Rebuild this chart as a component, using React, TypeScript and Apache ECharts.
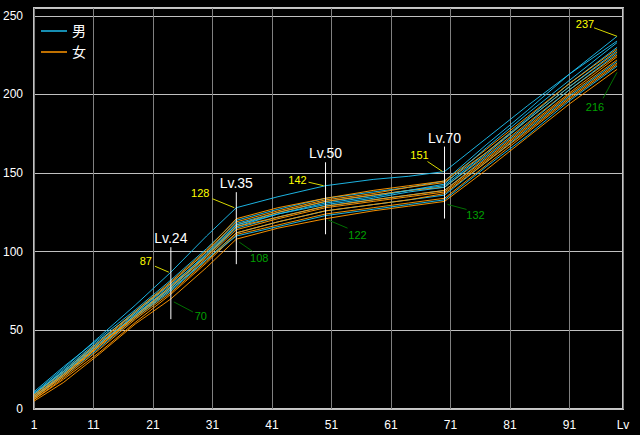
import React, { useEffect, useRef } from "react";
import * as echarts from "echarts";

const levels = [1, 6, 12, 18, 24, 30, 35, 42, 50, 58, 64, 70, 77, 84, 91, 99];

// 男 (blue) curves
const male1 = [10, 26, 46, 66, 87, 110, 128, 135, 142, 146, 148, 151, 172, 193, 213, 234];
const male2 = [11, 27, 45, 63, 82, 102, 120, 127, 134, 138, 141, 145, 168, 190, 213, 237];
const male3 = [9, 24, 43, 62, 80, 100, 118, 125, 132, 136, 139, 142, 163, 185, 207, 230];
const male4 = [8, 22, 41, 60, 77, 97, 115, 122, 129, 133, 136, 139, 160, 181, 203, 226];
const male5 = [7, 21, 39, 58, 75, 95, 112, 119, 126, 130, 133, 136, 157, 178, 199, 221];
const male6 = [9, 25, 44, 61, 79, 98, 116, 124, 130, 134, 138, 141, 162, 184, 205, 228];
const male7 = [10, 24, 42, 59, 76, 95, 110, 116, 123, 127, 130, 133, 154, 174, 196, 218];
const male8 = [8, 23, 41, 60, 78, 99, 117, 124, 131, 135, 139, 143, 166, 188, 209, 233];

// 女 (orange) curves
const female1 = [6, 19, 36, 55, 73, 93, 111, 117, 124, 128, 131, 134, 155, 176, 197, 219];
const female2 = [5, 17, 35, 54, 70, 90, 108, 115, 121, 126, 129, 132, 152, 173, 194, 216];
const female3 = [7, 22, 40, 59, 77, 98, 117, 125, 132, 136, 139, 141, 161, 182, 203, 225];
const female4 = [8, 23, 42, 61, 80, 100, 119, 126, 133, 137, 141, 144, 163, 184, 205, 227];
const female5 = [7, 21, 40, 58, 76, 96, 114, 121, 128, 132, 135, 138, 158, 179, 200, 222];
const female6 = [9, 24, 43, 62, 81, 101, 121, 128, 134, 139, 142, 145, 165, 186, 207, 229];
const female7 = [6, 20, 38, 57, 74, 94, 112, 119, 126, 130, 133, 137, 157, 177, 198, 220];
const female8 = [8, 22, 41, 59, 78, 97, 116, 122, 129, 133, 136, 139, 159, 180, 201, 224];

const maleSeries = [male1, male2, male3, male4, male5, male6, male7, male8];
const femaleSeries = [female1, female2, female3, female4, female5, female6, female7, female8];

// Marked levels: max / min / middle of the marker
const markLevels = [24, 35, 50, 70];
const markMax = [87, 128, 142, 151];
const markMin = [70, 108, 122, 132];
const markMid = [80, 115, 134, 144];
const endLevel = 99;
const endMax = 237;
const endMin = 216;

// Tick labels
const xTickLabelLast = "Lv";
const legendNames = ["男", "女"];

// Layout (pixel offsets) for annotations
const maxLabelOff = [[-25, -11], [-36, -15], [-28, -6], [-25, -17]];
const maxConnOff = [[-16, -6], [-24, -9], [-17, -3.5], [-17, -10]];
const minLabelOff = [[30, 17], [23, 19], [32, 18], [31, 14]];
const minConnOff = [[22, 13], [16, 12], [22, 11], [22, 8]];

const BLUE = "#1ebcec";
const ORANGE = "#ff9600";
const FONT = "'Liberation Sans', 'Noto Sans CJK JP', sans-serif";

export default function App() {
  const ref = useRef<HTMLDivElement>(null);

  useEffect(() => {
    document.body.style.margin = "0";
    const chart = echarts.init(ref.current!, null, { renderer: "svg" });

    const mk = (vals: number[], name: string, color: string) => ({
      type: "line",
      name,
      data: levels.map((l, i) => [l, vals[i]]),
      showSymbol: false,
      symbol: "none",
      color,
      lineStyle: { color, width: 1, opacity: 0.95 },
      itemStyle: { color },
      silent: true,
    });

    const series: any[] = [];
    for (let i = 0; i < 8; i++) {
      series.push(mk(maleSeries[i], legendNames[0], BLUE));
      series.push(mk(femaleSeries[i], legendNames[1], ORANGE));
    }

    chart.setOption({
      animation: false,
      backgroundColor: "#000",
      textStyle: { fontFamily: FONT },
      grid: {
        left: 33,
        right: 17,
        top: 8,
        bottom: 26,
        show: true,
        borderColor: "#c8c8c8",
        borderWidth: 2,
        backgroundColor: "transparent",
      },
      legend: {
        data: legendNames,
        orient: "vertical",
        left: 36,
        top: 19,
        icon: "rect",
        itemWidth: 26,
        itemHeight: 1.5,
        itemGap: 7,
        textStyle: { color: "#fff", fontSize: 14, fontFamily: FONT },
      },
      xAxis: {
        type: "value",
        min: 1,
        max: 100,
        interval: 10,
        axisLine: { show: false },
        axisTick: { show: false },
        splitLine: { show: true, lineStyle: { color: "#808080", width: 1 } },
        axisLabel: {
          color: "#fff",
          fontSize: 12,
          margin: 10,
          showMaxLabel: true,
          formatter: (v: number) => (v === 100 ? xTickLabelLast : String(v)),
        },
      },
      yAxis: {
        type: "value",
        min: 0,
        max: 255,
        interval: 50,
        axisLine: { show: false },
        axisTick: { show: false },
        splitLine: { show: true, lineStyle: { color: "#c0c0c0", width: 1 } },
        axisLabel: {
          color: "#fff",
          fontSize: 12,
          margin: 11,
          showMaxLabel: false,
        },
      },
      series,
    });

    const px = (lv: number, v: number) =>
      chart.convertToPixel({ gridIndex: 0 }, [lv, v]) as number[];

    const g: any[] = [];
    const txt = (text: string, x: number, y: number, fill: string, size: number) => ({
      type: "text",
      z: 100,
      silent: true,
      style: {
        text,
        x,
        y,
        fill,
        font: `${size}px ${FONT}`,
        textAlign: "center",
        textVerticalAlign: "middle",
        align: "center",
        verticalAlign: "middle",
      },
    });
    const ln = (x1: number, y1: number, x2: number, y2: number, stroke: string) => ({
      type: "line",
      z: 100,
      silent: true,
      shape: { x1, y1, x2, y2 },
      style: { stroke, lineWidth: 1 },
    });

    markLevels.forEach((lv, i) => {
      const [x, yMid] = px(lv, markMid[i]);
      const yMax = px(lv, markMax[i])[1];
      const yMin = px(lv, markMin[i])[1];
      const top = yMid - 36;
      const bot = yMid + 36;
      g.push(ln(x, top, x, bot, "#ffffff"));
      g.push(txt("Lv." + lv, x, top - 9, "#ffffff", 14));
      g.push(txt(String(markMax[i]), x + maxLabelOff[i][0], yMax + maxLabelOff[i][1], "#ffff00", 11));
      g.push(ln(x + maxConnOff[i][0], yMax + maxConnOff[i][1], x - 2, yMax, "#d8d800"));
      g.push(txt(String(markMin[i]), x + minLabelOff[i][0], yMin + minLabelOff[i][1], "#00a000", 11));
      g.push(ln(x + 3, yMin + 3, x + minConnOff[i][0], yMin + minConnOff[i][1], "#007000"));
    });

    const [ex, eyMax] = px(endLevel, endMax);
    const eyMin = px(endLevel, endMin)[1];
    g.push(txt(String(endMax), ex - 32, eyMax - 12, "#ffff00", 11));
    g.push(ln(ex - 23, eyMax - 8.5, ex, eyMax, "#d8d800"));
    g.push(txt(String(endMin), ex - 22, eyMin + 38, "#00a000", 11));
    g.push(ln(ex, eyMin + 3, ex - 14, eyMin + 29, "#007000"));

    chart.setOption({ graphic: { elements: g } });

    return () => chart.dispose();
  }, []);

  return (
    <div
      ref={ref}
      style={{ position: "fixed", left: 0, top: 0, width: 640, height: 435 }}
    />
  );
}
